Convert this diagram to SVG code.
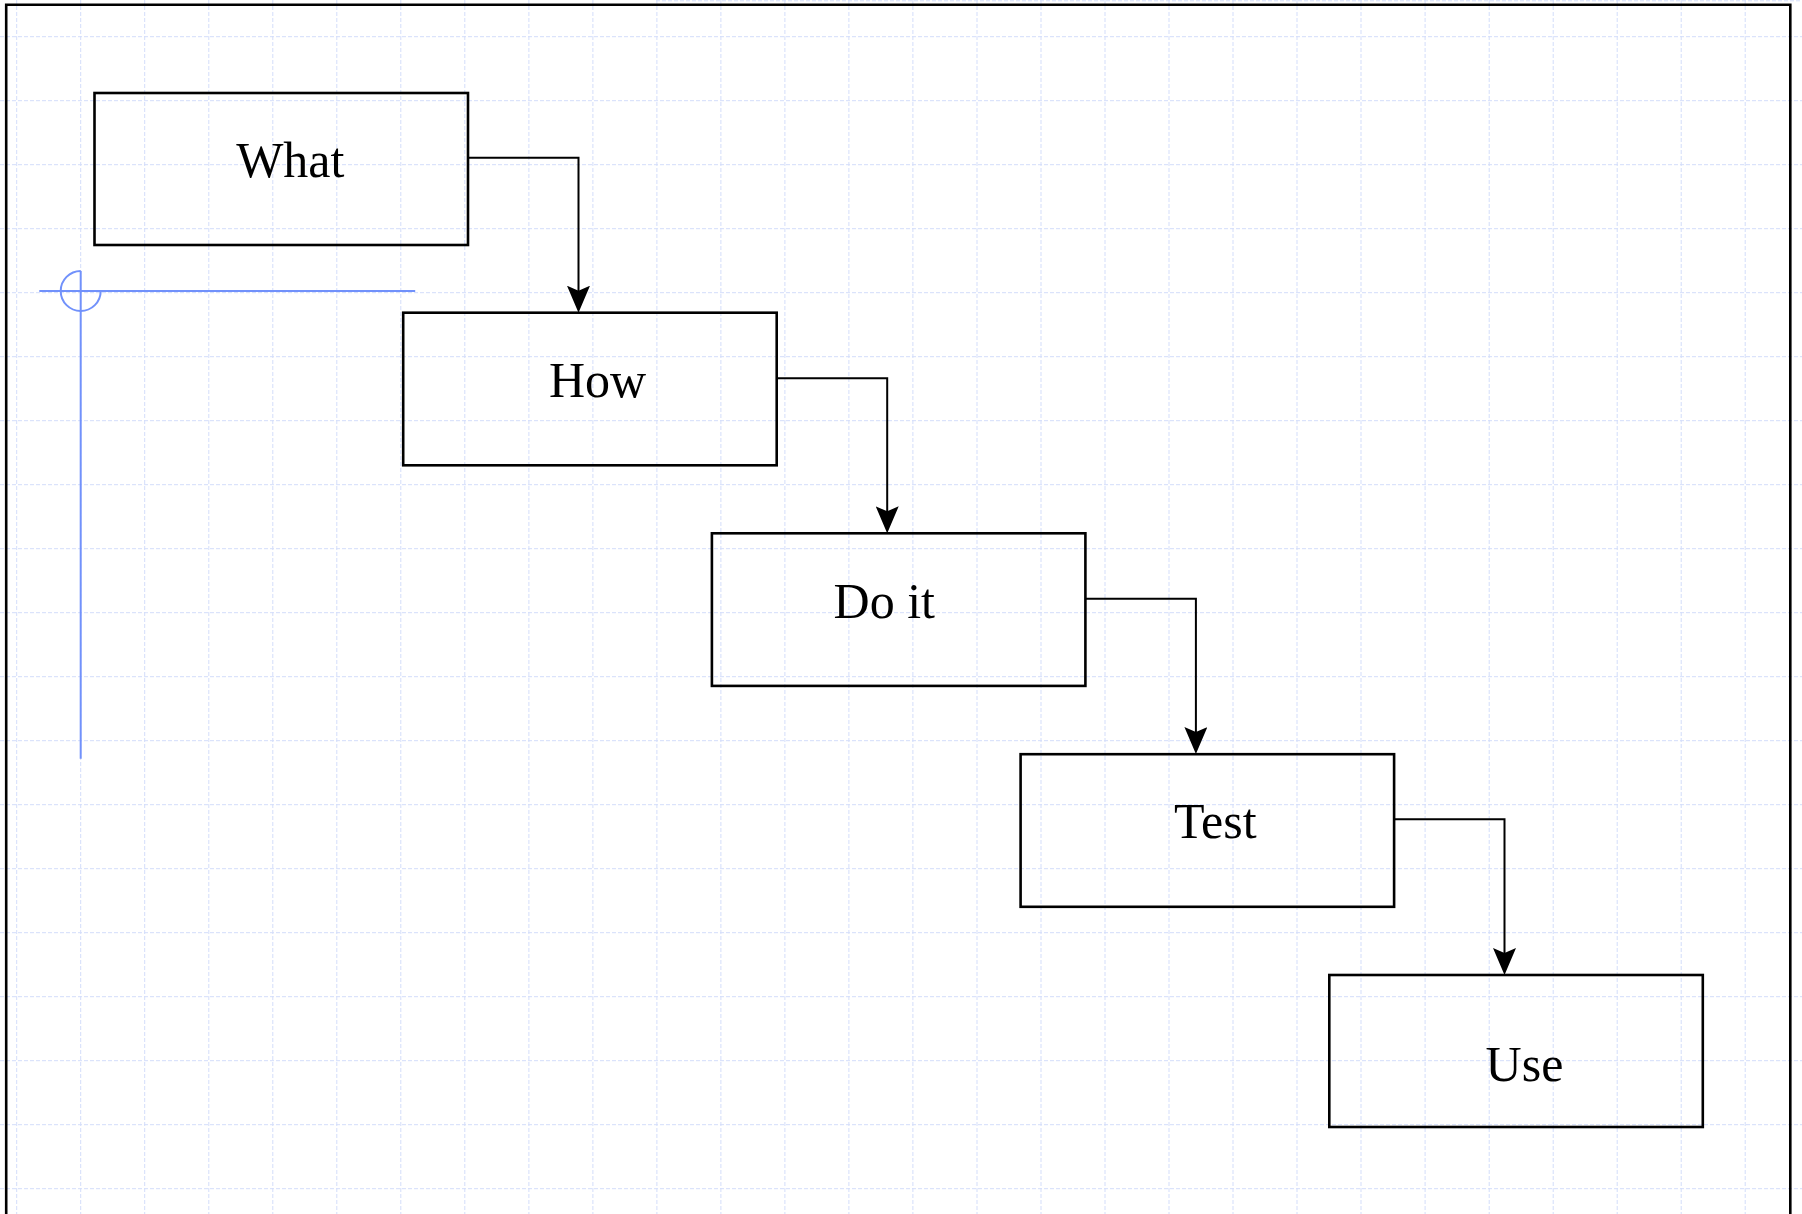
<svg xmlns="http://www.w3.org/2000/svg" width="1802" height="1214" viewBox="0 0 1802 1214">
  <defs>
    <style>
      .grid { fill: none; stroke: #d3ddfa; stroke-width: 1; stroke-dasharray: 4 2; }
      .frame { fill: none; stroke: #000; stroke-width: 2.6; }
      .guide { fill: none; stroke: #7191fb; stroke-width: 2; }
      .box { fill: none; stroke: #000; stroke-width: 2.6; }
      .label { font-family: "Liberation Serif", "Times New Roman", serif; font-size: 50px; fill: #000; text-anchor: middle; }
      .edge { fill: none; stroke: #000; stroke-width: 2; }
    </style>
    <marker id="arrow" viewBox="0 0 27 23" refX="17" refY="11.5" markerWidth="27" markerHeight="23" markerUnits="userSpaceOnUse" orient="auto">
      <path d="M0,0 L27,11.5 L0,23 L5,11.5 Z" fill="#000"/>
    </marker>
  </defs>

  <rect width="1802" height="1214" fill="#fff"/>

  <!-- background grid, 64px pitch -->
  <g id="grid">
    <path class="grid" d="M16.7,0V1214M80.7,0V1214M144.7,0V1214M208.8,0V1214M272.8,0V1214M336.8,0V1214M400.8,0V1214M464.8,0V1214M528.9,0V1214M592.9,0V1214M656.9,0V1214M720.9,0V1214M784.9,0V1214M848.9,0V1214M912.9,0V1214M977,0V1214M1041,0V1214M1105,0V1214M1169,0V1214M1233,0V1214M1297,0V1214M1361,0V1214M1425.1,0V1214M1489.2,0V1214M1553.2,0V1214M1617.2,0V1214M1681.2,0V1214M1745.2,0V1214"/>
    <path class="grid" d="M0,36.7H1802M0,100.7H1802M0,164.7H1802M0,228.7H1802M0,292.7H1802M0,356.7H1802M0,420.7H1802M0,484.7H1802M0,548.7H1802M0,612.7H1802M0,676.7H1802M0,740.7H1802M0,804.7H1802M0,868.7H1802M0,932.7H1802M0,996.7H1802M0,1060.7H1802M0,1124.7H1802M0,1188.7H1802"/>
    <path class="grid" d="M656,0.8H1802"/>
  </g>

  <!-- page frame -->
  <path id="frame" class="frame" d="M6.2,1220V4.7H1790.3V1220"/>

  <!-- origin guide -->
  <g id="guide">
    <path class="guide" d="M39.3,291H415.2"/>
    <path class="guide" d="M80.7,271V758.7"/>
    <path class="guide" d="M80.7,271A20,20 0 1 0 100.7,291"/>
  </g>

  <!-- connectors -->
  <g id="connectors">
    <path class="edge" d="M468,157.7H578.5V302.7" marker-end="url(#arrow)"/>
    <path class="edge" d="M776.7,378.3H887.2V523.3" marker-end="url(#arrow)"/>
    <path class="edge" d="M1085.4,598.8H1195.9V744" marker-end="url(#arrow)"/>
    <path class="edge" d="M1394.1,819.3H1504.5V965" marker-end="url(#arrow)"/>
  </g>

  <!-- steps -->
  <g id="node-what">
    <rect class="box" x="94.5" y="93" width="373.5" height="152"/>
    <text class="label" x="290.3" y="176.7">What</text>
  </g>
  <g id="node-how">
    <rect class="box" x="403.2" y="312.7" width="373.5" height="152.6"/>
    <text class="label" x="597.5" y="396.7">How</text>
  </g>
  <g id="node-doit">
    <rect class="box" x="711.9" y="533.3" width="373.5" height="152.6"/>
    <text class="label" x="884.3" y="617.7">Do it</text>
  </g>
  <g id="node-test">
    <rect class="box" x="1020.6" y="754.2" width="373.5" height="152.6"/>
    <text class="label" x="1215.3" y="838.3">Test</text>
  </g>
  <g id="node-use">
    <rect class="box" x="1329.3" y="975" width="373.5" height="152"/>
    <text class="label" x="1524.5" y="1081">Use</text>
  </g>
</svg>
